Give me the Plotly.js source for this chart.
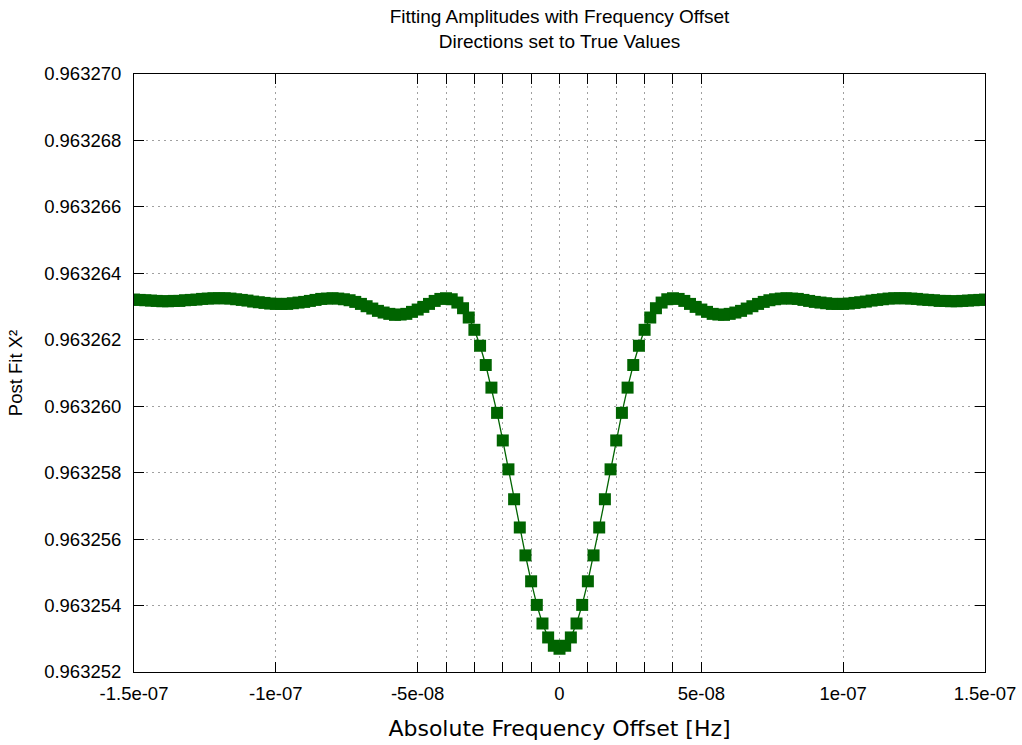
<!DOCTYPE html>
<html>
<head>
<meta charset="utf-8">
<script src="https://cdn.plot.ly/plotly-3.0.1.min.js"></script>
<style>
  html, body { margin: 0; padding: 0; background: #ffffff; }
  #chart { width: 1022px; height: 745px; }
</style>
</head>
<body>
<div id="chart"></div>
<script>
// Frequency offset [Hz]
const freqOffsetHz = [
  -1.50e-7, -1.48e-7, -1.46e-7, -1.44e-7, -1.42e-7, -1.40e-7, -1.38e-7, -1.36e-7, -1.34e-7, -1.32e-7,
  -1.30e-7, -1.28e-7, -1.26e-7, -1.24e-7, -1.22e-7, -1.20e-7, -1.18e-7, -1.16e-7, -1.14e-7, -1.12e-7,
  -1.10e-7, -1.08e-7, -1.06e-7, -1.04e-7, -1.02e-7, -1.00e-7, -9.8e-8, -9.6e-8, -9.4e-8, -9.2e-8,
  -9.0e-8, -8.8e-8, -8.6e-8, -8.4e-8, -8.2e-8, -8.0e-8, -7.8e-8, -7.6e-8, -7.4e-8, -7.2e-8,
  -7.0e-8, -6.8e-8, -6.6e-8, -6.4e-8, -6.2e-8, -6.0e-8, -5.8e-8, -5.6e-8, -5.4e-8, -5.2e-8,
  -5.0e-8, -4.8e-8, -4.6e-8, -4.4e-8, -4.2e-8, -4.0e-8, -3.8e-8, -3.6e-8, -3.4e-8, -3.2e-8,
  -3.0e-8, -2.8e-8, -2.6e-8, -2.4e-8, -2.2e-8, -2.0e-8, -1.8e-8, -1.6e-8, -1.4e-8, -1.2e-8,
  -1.0e-8, -8e-9, -6e-9, -4e-9, -2e-9, 0,
  2e-9, 4e-9, 6e-9, 8e-9, 1.0e-8, 1.2e-8, 1.4e-8, 1.6e-8, 1.8e-8, 2.0e-8,
  2.2e-8, 2.4e-8, 2.6e-8, 2.8e-8, 3.0e-8, 3.2e-8, 3.4e-8, 3.6e-8, 3.8e-8, 4.0e-8,
  4.2e-8, 4.4e-8, 4.6e-8, 4.8e-8, 5.0e-8, 5.2e-8, 5.4e-8, 5.6e-8, 5.8e-8, 6.0e-8,
  6.2e-8, 6.4e-8, 6.6e-8, 6.8e-8, 7.0e-8, 7.2e-8, 7.4e-8, 7.6e-8, 7.8e-8, 8.0e-8,
  8.2e-8, 8.4e-8, 8.6e-8, 8.8e-8, 9.0e-8, 9.2e-8, 9.4e-8, 9.6e-8, 9.8e-8, 1.00e-7,
  1.02e-7, 1.04e-7, 1.06e-7, 1.08e-7, 1.10e-7, 1.12e-7, 1.14e-7, 1.16e-7, 1.18e-7, 1.20e-7,
  1.22e-7, 1.24e-7, 1.26e-7, 1.28e-7, 1.30e-7, 1.32e-7, 1.34e-7, 1.36e-7, 1.38e-7, 1.40e-7,
  1.42e-7, 1.44e-7, 1.46e-7, 1.48e-7, 1.50e-7
];

// Post fit chi-squared
const postFitChi2 = [
  0.96326321, 0.96326320, 0.96326319, 0.96326318, 0.96326317, 0.96326316, 0.96326316, 0.96326317, 0.96326317, 0.96326319,
  0.96326320, 0.96326321, 0.96326323, 0.96326324, 0.96326325, 0.96326325, 0.96326325, 0.96326324, 0.96326322, 0.96326320,
  0.96326318, 0.96326315, 0.96326313, 0.96326311, 0.96326309, 0.96326308, 0.96326308, 0.96326308, 0.96326310, 0.96326312,
  0.96326314, 0.96326317, 0.96326320, 0.96326323, 0.96326324, 0.96326325, 0.96326324, 0.96326322, 0.96326319, 0.96326314,
  0.96326308, 0.96326301, 0.96326294, 0.96326287, 0.96326282, 0.96326278, 0.96326275, 0.96326276, 0.96326278, 0.96326284,
  0.96326291, 0.96326299, 0.96326308, 0.96326317, 0.96326323, 0.96326325, 0.96326322, 0.96326312, 0.96326295, 0.96326267,
  0.96326230, 0.96326182, 0.96326124, 0.96326056, 0.96325980, 0.96325897, 0.96325810, 0.96325720, 0.96325635, 0.96325551,
  0.96325473, 0.96325402, 0.96325346, 0.96325304, 0.96325279, 0.96325270,
  0.96325279, 0.96325304, 0.96325346, 0.96325402, 0.96325473, 0.96325551, 0.96325635, 0.96325720, 0.96325810, 0.96325897,
  0.96325980, 0.96326056, 0.96326124, 0.96326182, 0.96326230, 0.96326267, 0.96326295, 0.96326312, 0.96326322, 0.96326325,
  0.96326323, 0.96326317, 0.96326308, 0.96326299, 0.96326291, 0.96326284, 0.96326278, 0.96326276, 0.96326275, 0.96326278,
  0.96326282, 0.96326287, 0.96326294, 0.96326301, 0.96326308, 0.96326314, 0.96326319, 0.96326322, 0.96326324, 0.96326325,
  0.96326324, 0.96326323, 0.96326320, 0.96326317, 0.96326314, 0.96326312, 0.96326310, 0.96326308, 0.96326308, 0.96326308,
  0.96326309, 0.96326311, 0.96326313, 0.96326315, 0.96326318, 0.96326320, 0.96326322, 0.96326324, 0.96326325, 0.96326325,
  0.96326325, 0.96326324, 0.96326323, 0.96326321, 0.96326320, 0.96326319, 0.96326317, 0.96326317, 0.96326316, 0.96326316,
  0.96326317, 0.96326318, 0.96326319, 0.96326320, 0.96326321
];

// X axis ticks (major labelled, inner ones unlabelled)
const xTickVals = [-1.5e-7, -1e-7, -5e-8, -4e-8, -3e-8, -2e-8, -1e-8, 0, 1e-8, 2e-8, 3e-8, 4e-8, 5e-8, 1e-7, 1.5e-7];
const xTickText = ['-1.5e-07', '-1e-07', '-5e-08', '', '', '', '', '0', '', '', '', '', '5e-08', '1e-07', '1.5e-07'];

// Y axis ticks
const yTickVals = [0.963252, 0.963254, 0.963256, 0.963258, 0.963260, 0.963262, 0.963264, 0.963266, 0.963268, 0.963270];
const yTickText = ['0.963252', '0.963254', '0.963256', '0.963258', '0.963260', '0.963262', '0.963264', '0.963266', '0.963268', '0.963270'];

const chartTitle = 'Fitting Amplitudes with Frequency Offset<br>Directions set to True Values';
const xTitle = 'Absolute Frequency Offset [Hz]';
const yTitle = 'Post Fit X\u00B2';

const sansFont = 'Liberation Sans, Arial, sans-serif';
const green = '#006400';
const gridGray = '#a0a0a0';

const trace = {
  x: freqOffsetHz,
  y: postFitChi2,
  type: 'scatter',
  mode: 'lines+markers',
  line: { color: green, width: 1.3 },
  marker: { symbol: 'square', size: 12, color: green },
  showlegend: false,
  hoverinfo: 'x+y'
};

const axisCommon = {
  showline: true,
  linecolor: '#000000',
  linewidth: 1,
  mirror: 'ticks',
  ticks: 'inside',
  ticklen: 10,
  tickwidth: 1,
  tickcolor: '#000000',
  showgrid: true,
  gridcolor: gridGray,
  gridwidth: 1,
  griddash: '2px,4px',
  zeroline: false,
  automargin: false,
  tickfont: { family: sansFont, size: 18.5, color: '#000000' }
};

const layout = {
  width: 1022,
  height: 745,
  paper_bgcolor: '#ffffff',
  plot_bgcolor: '#ffffff',
  margin: { l: 134, r: 37, t: 74, b: 73 },
  title: {
    text: chartTitle,
    font: { family: sansFont, size: 19, color: '#000000' },
    xref: 'paper',
    x: 0.5,
    xanchor: 'center',
    yref: 'container',
    y: 1 - 23 / 745,
    yanchor: 'top'
  },
  xaxis: Object.assign({}, axisCommon, {
    range: [-1.5e-7, 1.5e-7],
    tickmode: 'array',
    tickvals: xTickVals,
    ticktext: xTickText,
    ticklabelstandoff: 5,
    title: { text: xTitle, font: { family: 'DejaVu Sans, sans-serif', size: 22, color: '#000000' }, standoff: 17 }
  }),
  yaxis: Object.assign({}, axisCommon, {
    range: [0.963252, 0.963270],
    tickmode: 'array',
    tickvals: yTickVals,
    ticktext: yTickText,
    ticklabelstandoff: 8,
    title: { text: yTitle, font: { family: sansFont, size: 18.5, color: '#000000' }, standoff: 16 }
  })
};

Plotly.newPlot('chart', [trace], layout, { displayModeBar: false, staticPlot: true });
</script>
</body>
</html>
